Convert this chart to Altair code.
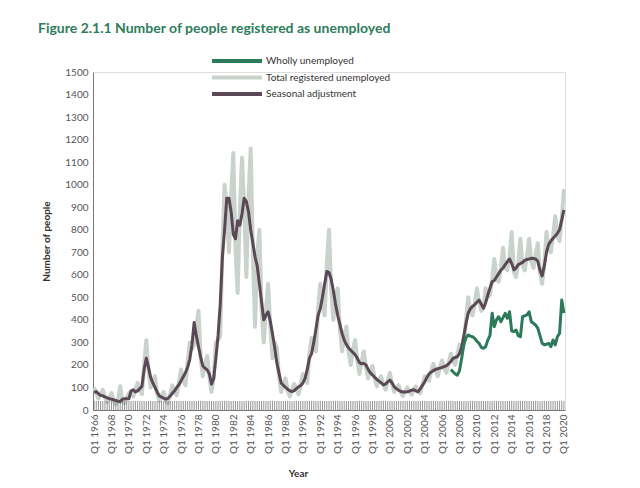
import altair as alt
import pandas as pd

# Quarterly categories Q1 1966 .. Q1 2020
years = list(range(1966, 2021))
quarters = [f"Q{q} {y}" for y in years for q in range(1, 5)][:217]
label_values = [f"Q1 {y}" for y in range(1966, 2021, 2)]
y_tick_values = list(range(0, 1501, 100))

# Seasonal adjustment (quarterly)
seasonal = [
    78, 82, 72, 65,      # 1966
    63, 58, 54, 50,      # 1967
    48, 45, 42, 39,      # 1968
    37, 48, 50, 50,      # 1969
    50, 85, 90, 80,      # 1970
    85, 95, 105, 180,    # 1971
    230, 190, 145, 120,  # 1972
    100, 80, 62, 57,     # 1973
    52, 48, 52, 62,      # 1974
    75, 85, 100, 112,    # 1975
    130, 148, 165, 190,  # 1976
    225, 290, 388, 330,  # 1977
    280, 235, 195, 185,  # 1978
    178, 160, 115, 140,  # 1979
    230, 330, 470, 680,  # 1980
    800, 940, 940, 880,  # 1981
    780, 760, 840, 820,  # 1982
    870, 940, 925, 880,  # 1983
    800, 740, 680, 640,  # 1984
    560, 480, 400, 420,  # 1985
    436, 395, 340, 280,  # 1986
    210, 165, 120, 110,  # 1987
    100, 92, 85, 82,     # 1988
    86, 95, 103, 108,    # 1989
    120, 140, 180, 230,  # 1990
    250, 300, 360, 420,  # 1991
    450, 500, 560, 615,  # 1992
    610, 580, 530, 470,  # 1993
    420, 380, 340, 310,  # 1994
    290, 275, 265, 255,  # 1995
    245, 230, 210, 205,  # 1996
    207, 200, 180, 165,  # 1997
    155, 145, 135, 128,  # 1998
    120, 112, 115, 125,  # 1999
    133, 120, 103, 95,   # 2000
    88, 82, 80, 80,      # 2001
    81, 84, 88, 90,      # 2002
    84, 82, 95, 110,     # 2003
    125, 145, 160, 168,  # 2004
    175, 180, 183, 186,  # 2005
    189, 193, 197, 205,  # 2006
    215, 229, 233, 237,  # 2007
    250, 280, 330, 385,  # 2008
    430, 450, 460, 468,  # 2009
    478, 488, 470, 452,  # 2010
    475, 510, 540, 569,  # 2011
    575, 590, 605, 620,  # 2012
    630, 645, 658, 670,  # 2013
    650, 622, 630, 645,  # 2014
    650, 655, 664, 668,  # 2015
    670, 673, 672, 670,  # 2016
    660, 620, 595, 640,  # 2017
    700, 735, 750, 762,  # 2018
    772, 784, 800, 843,  # 2019
    888,                 # 2020
]

# Total registered unemployed (quarterly, not adjusted)
total = [
    100, 75, 50, 70,     # 1966
    90, 55, 35, 55,      # 1967
    75, 40, 25, 45,      # 1968
    105, 40, 30, 55,     # 1969
    75, 80, 60, 90,      # 1970
    120, 90, 70, 200,    # 1971
    310, 175, 100, 130,  # 1972
    150, 70, 40, 65,     # 1973
    80, 40, 30, 70,      # 1974
    110, 75, 65, 125,    # 1975
    180, 130, 110, 210,  # 1976
    300, 270, 290, 370,  # 1977
    440, 230, 150, 200,  # 1978
    240, 150, 80, 150,   # 1979
    300, 310, 330, 720,  # 1980
    1000, 900, 700, 950, # 1981
    1140, 720, 520, 880, # 1982
    1120, 900, 590, 950, # 1983
    1160, 700, 370, 690, # 1984
    800, 450, 300, 440,  # 1985
    560, 380, 230, 300,  # 1986
    280, 150, 80, 120,   # 1987
    140, 85, 60, 90,     # 1988
    115, 90, 70, 115,    # 1989
    160, 130, 120, 250,  # 1990
    320, 280, 260, 450,  # 1991
    560, 470, 420, 650,  # 1992
    800, 540, 400, 500,  # 1993
    540, 360, 260, 330,  # 1994
    370, 260, 200, 270,  # 1995
    310, 220, 160, 215,  # 1996
    260, 190, 140, 175,  # 1997
    195, 140, 105, 135,  # 1998
    150, 110, 90, 130,   # 1999
    165, 115, 80, 100,   # 2000
    110, 80, 62, 85,     # 2001
    100, 80, 68, 95,     # 2002
    105, 78, 75, 115,    # 2003
    150, 140, 130, 175,  # 2004
    205, 175, 150, 190,  # 2005
    220, 185, 165, 210,  # 2006
    250, 220, 200, 245,  # 2007
    290, 270, 290, 400,  # 2008
    500, 440, 420, 470,  # 2009
    540, 480, 440, 450,  # 2010
    540, 500, 510, 580,  # 2011
    670, 580, 570, 630,  # 2012
    720, 630, 620, 680,  # 2013
    790, 610, 590, 650,  # 2014
    760, 640, 620, 680,  # 2015
    760, 660, 630, 690,  # 2016
    740, 610, 560, 650,  # 2017
    790, 720, 700, 770,  # 2018
    860, 770, 750, 850,  # 2019
    980,                 # 2020
]

# Wholly unemployed, from Q1 2007
wholly_start = "Q1 2007"
wholly = [
    180, 170, 160, 155,  # 2007
    175, 230, 290, 320,  # 2008
    333, 328, 325, 318,  # 2009
    305, 296, 278, 274,  # 2010
    281, 310, 330, 429,  # 2011
    370, 400, 414, 392,  # 2012
    410, 429, 407, 436,  # 2013
    350, 348, 355, 330,  # 2014
    325, 414, 418, 422,  # 2015
    436, 392, 385, 377,  # 2016
    363, 330, 296, 289,  # 2017
    292, 296, 281, 311,  # 2018
    289, 325, 340, 488,  # 2019
    430,                 # 2020
]

series_names = ["Wholly unemployed", "Total registered unemployed", "Seasonal adjustment"]
series_colors = ["#2b7a5a", "#c9d3cc", "#5a4856"]

rows = []
for q, v in zip(quarters, total):
    rows.append({"quarter": q, "value": v, "series": series_names[1]})
for q, v in zip(quarters, seasonal):
    rows.append({"quarter": q, "value": v, "series": series_names[2]})
start = quarters.index(wholly_start)
for q, v in zip(quarters[start:], wholly):
    rows.append({"quarter": q, "value": v, "series": series_names[0]})
df = pd.DataFrame(rows)
ticks_df = pd.DataFrame({"quarter": quarters, "value": [0] * len(quarters)})

FONT = "Lato"
y_scale = alt.Scale(domain=[0, 1500], nice=False)

x_enc = alt.X(
    "quarter:O",
    sort=quarters,
    scale=alt.Scale(type="point", padding=0.5),
    axis=alt.Axis(
        title="Year", values=label_values, labelAngle=-90, ticks=False,
        labelFontSize=10, labelColor="#555555", labelFont=FONT, labelPadding=4,
        domainColor="#777777", titleFont=FONT, titleFontSize=10, titleColor="#333333",
        titleFontWeight="bold", titleX=205, titleY=58, labelOverlap=False,
    ),
)
y_enc = alt.Y(
    "value:Q",
    scale=y_scale,
    axis=alt.Axis(
        title="Number of people", values=y_tick_values, format="d",
        grid=False, ticks=False, labelOverlap=False,
        labelFontSize=10, labelColor="#555555", labelFont=FONT, labelPadding=5,
        domainColor="#777777", titleFont=FONT, titleFontSize=10, titleColor="#333333",
        titleFontWeight="bold", titleX=-47, titleY=169, titleAngle=-90,
        titleBaseline="middle", titleAlign="center",
    ),
)
color_enc = alt.Color(
    "series:N",
    scale=alt.Scale(domain=series_names, range=series_colors),
    legend=alt.Legend(
        title=None, orient="none", legendX=137, legendY=-18,
        symbolType="M-5,0L5,0", symbolSize=100, symbolStrokeWidth=4,
        labelFont=FONT, labelFontSize=10, labelColor="#333333",
        rowPadding=0.5, labelOffset=22,
    ),
)

base = alt.Chart(df)
total_line = base.transform_filter(alt.datum.series == series_names[1]).mark_line(
    strokeWidth=4, strokeJoin="round").encode(x=x_enc, y=y_enc, color=color_enc)
sa_line = base.transform_filter(alt.datum.series == series_names[2]).mark_line(
    strokeWidth=3, strokeJoin="round").encode(x=x_enc, y=y_enc, color=color_enc)
wholly_line = base.transform_filter(alt.datum.series == series_names[0]).mark_line(
    strokeWidth=3, strokeJoin="round").encode(x=x_enc, y=y_enc, color=color_enc)

tick_marks = alt.Chart(ticks_df).mark_tick(
    orient="vertical", size=9, thickness=1, color="#666666", yOffset=-4.5
).encode(x=x_enc, y=y_enc)

chart = alt.layer(total_line, sa_line, wholly_line, tick_marks).properties(
    width=472, height=338,
    autosize=alt.AutoSizeParams(type="none"),
    padding={"left": 93, "top": 72, "right": 75, "bottom": 78},
    title=alt.TitleParams(
        "Figure 2.1.1 Number of people registered as unemployed",
        anchor="start", frame="group", dx=-55, offset=18,
        font=FONT, fontSize=14, fontWeight="bold", color="#2e7d5b",
    ),
).configure_view(stroke=None).configure(background="white")

chart.save("out.html", embed_options={"renderer": "svg", "actions": False})
